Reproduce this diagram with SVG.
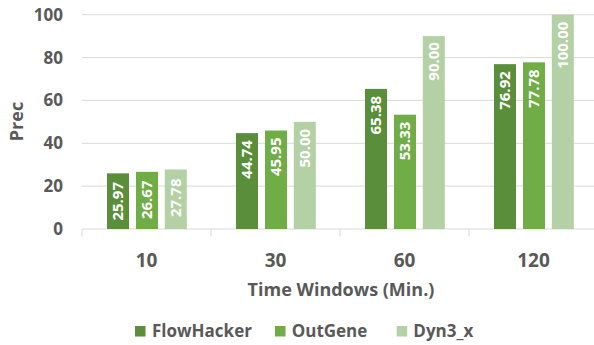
<svg xmlns="http://www.w3.org/2000/svg" width="594" height="345" viewBox="0 0 594 345">
<style>
text{font-family:"Open Sans","DejaVu Sans",sans-serif;font-weight:bold;fill:#595959}
.grid{stroke:#D9D9D9;stroke-width:1}
.ytick{font-size:17px;text-anchor:end}
.xtick{font-size:19px;text-anchor:middle}
.val{font-size:15px;fill:#fff;text-anchor:end}
.leg{font-size:17px}
.s1{fill:#5A8E3A}
.s2{fill:#70AD47}
.s3{fill:#B4D0A5}
</style>
<rect width="594" height="345" fill="#fff"/>
<g id="grid">
<line class="grid" x1="82" y1="14.7" x2="594" y2="14.7"/>
<line class="grid" x1="82" y1="57.6" x2="594" y2="57.6"/>
<line class="grid" x1="82" y1="100.4" x2="594" y2="100.4"/>
<line class="grid" x1="82" y1="143.3" x2="594" y2="143.3"/>
<line class="grid" x1="82" y1="186.1" x2="594" y2="186.1"/>
<line class="grid" x1="82" y1="229" x2="594" y2="229"/>
<line class="grid" x1="82" y1="229" x2="82" y2="236.5"/>
<line class="grid" x1="211" y1="229" x2="211" y2="236.5"/>
<line class="grid" x1="340" y1="229" x2="340" y2="236.5"/>
<line class="grid" x1="469" y1="229" x2="469" y2="236.5"/>
</g>
<g id="y-axis">
<text class="ytick" x="63" y="21">100</text>
<text class="ytick" x="63" y="63.6">80</text>
<text class="ytick" x="63" y="106.4">60</text>
<text class="ytick" x="63" y="149.3">40</text>
<text class="ytick" x="63" y="192.1">20</text>
<text class="ytick" x="63" y="235">0</text>
<text font-size="18" text-anchor="middle" transform="translate(23.3,121.5) rotate(-90)">Prec</text>
</g>
<g id="x-axis">
<text class="xtick" x="146.5" y="266.5">10</text>
<text class="xtick" x="275.5" y="266.5">30</text>
<text class="xtick" x="404.5" y="266.5">60</text>
<text class="xtick" x="533.5" y="266.5">120</text>
<text font-size="18" text-anchor="middle" x="341" y="296">Time Windows (Min.)</text>
</g>
<g id="FlowHacker">
<rect class="s1" x="107" y="173.35" width="22" height="55.65"/>
<rect class="s1" x="236" y="133.12" width="22" height="95.88"/>
<rect class="s1" x="365" y="88.89" width="22" height="140.11"/>
<rect class="s1" x="494" y="64.16" width="22" height="164.84"/>
<text class="val" transform="translate(123.4,182) rotate(-90)">25.97</text>
<text class="val" transform="translate(252.4,140.1) rotate(-90)">44.74</text>
<text class="val" transform="translate(381.4,95.9) rotate(-90)">65.38</text>
<text class="val" transform="translate(510.4,71.2) rotate(-90)">76.92</text>
</g>
<g id="OutGene">
<rect class="s2" x="136" y="171.85" width="22" height="57.15"/>
<rect class="s2" x="265" y="130.53" width="22" height="98.47"/>
<rect class="s2" x="394" y="114.71" width="22" height="114.29"/>
<rect class="s2" x="523" y="62.32" width="22" height="166.68"/>
<text class="val" transform="translate(152.4,180.5) rotate(-90)">26.67</text>
<text class="val" transform="translate(281.4,137.5) rotate(-90)">45.95</text>
<text class="val" transform="translate(410.4,121.7) rotate(-90)">53.33</text>
<text class="val" transform="translate(539.4,69.3) rotate(-90)">77.78</text>
</g>
<g id="Dyn3_x">
<rect class="s3" x="164.8" y="169.47" width="22" height="59.53"/>
<rect class="s3" x="293.8" y="121.85" width="22" height="107.15"/>
<rect class="s3" x="422.8" y="36.13" width="22" height="192.87"/>
<rect class="s3" x="551.8" y="14.7" width="22" height="214.3"/>
<text class="val" transform="translate(181.2,178.5) rotate(-90)">27.78</text>
<text class="val" transform="translate(310.2,128.9) rotate(-90)">50.00</text>
<text class="val" transform="translate(439.2,42.1) rotate(-90)">90.00</text>
<text class="val" transform="translate(568.2,21.7) rotate(-90)">100.00</text>
</g>
<g id="legend">
<rect class="s1" x="135" y="326" width="10.5" height="10.5"/>
<text class="leg" x="152" y="336.5">FlowHacker</text>
<rect class="s2" x="275" y="326" width="10.5" height="10.5"/>
<text class="leg" x="291.7" y="336.5">OutGene</text>
<rect class="s3" x="396.7" y="326" width="10.5" height="10.5"/>
<text class="leg" x="413.3" y="336.5">Dyn3_x</text>
</g>
</svg>
